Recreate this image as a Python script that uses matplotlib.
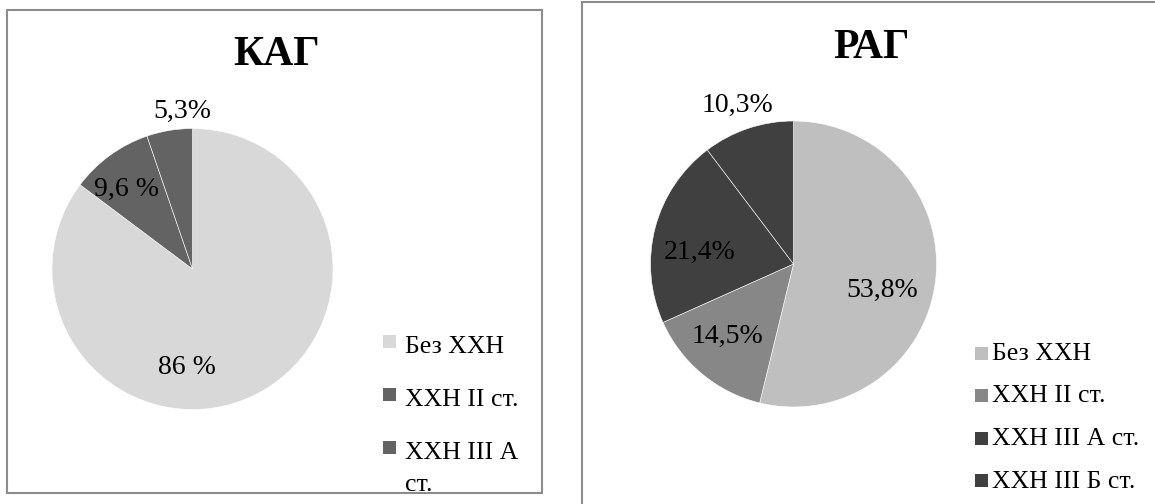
import textwrap
import matplotlib
matplotlib.use("Agg")
import matplotlib.pyplot as plt
from matplotlib.patches import Rectangle

plt.rcParams['font.family'] = ['Liberation Serif', 'DejaVu Serif']

# data
kag_title = 'КАГ'
kag_labels = ['Без ХХН', 'ХХН II ст.', 'ХХН III А ст.']
kag_values = [86, 9.6, 5.3]
kag_texts = ['86 %', '9,6 %', '5,3%']

rag_title = 'РАГ'
rag_labels = ['Без ХХН', 'ХХН II ст.', 'ХХН III А ст.', 'ХХН III Б ст.']
rag_values = [53.8, 14.5, 21.4, 10.3]
rag_texts = ['53,8%', '14,5%', '21,4%', '10,3%']

kag_colors = ['#d9d8d9', '#636363', '#636363']
rag_colors = ['#bfbfbf', '#878787', '#404040', '#404040']

W, H = 1155, 504
fig = plt.figure(figsize=(W / 100, H / 100), dpi=100)
ax = fig.add_axes([0, 0, 1, 1])


def Y(y):
    # image coords (y down) -> data coords (y up)
    return H - y


def panel(values, colors, labels, texts, title, center, r, title_xy, text_xy,
          leg_x, text_x, row0, step, base_off, leg_size, wrap=None):
    ax.pie(values, colors=colors, startangle=90, counterclock=False,
           center=(center[0], Y(center[1])), radius=r,
           wedgeprops=dict(edgecolor='white', linewidth=0.4))
    ax.text(title_xy[0], Y(title_xy[1]), title, fontsize=30, fontweight='bold',
            ha='center', va='center')
    for t, (x, y) in zip(texts, text_xy):
        ax.text(x, Y(y), t, fontsize=20, ha='center', va='center')
    for i, (lab, c) in enumerate(zip(labels, colors)):
        yc = row0 + i * step
        ax.add_patch(Rectangle((leg_x, Y(yc) - 6.5), 13, 13, facecolor=c,
                               edgecolor='none'))
        lines = textwrap.wrap(lab, wrap) if wrap else [lab]
        for k, ln in enumerate(lines):
            ax.text(text_x, Y(yc + base_off + k * 32), ln, fontsize=leg_size,
                    ha='left', va='baseline')


panel(kag_values, kag_colors, kag_labels, kag_texts, kag_title,
      (192.5, 269), 140.5, (277, 55),
      [(187, 367), (126, 189), (182, 111)],
      383, 405, 341, 53, 12, 18.5, wrap=10)

panel(rag_values, rag_colors, rag_labels, rag_texts, rag_title,
      (793.5, 264), 143, (872, 48),
      [(882, 290), (727, 336), (700, 252), (737, 105)],
      975, 992, 353, 42.5, 7, 18.5)

# chart frames
ax.add_patch(Rectangle((7, Y(493)), 535, 483, fill=False, edgecolor='#8c8c8c',
                       linewidth=1.5))
ax.add_patch(Rectangle((582, Y(520)), 600, 518, fill=False, edgecolor='#8c8c8c',
                       linewidth=1.5))

ax.set_xlim(0, W)
ax.set_ylim(0, H)
ax.axis('off')

fig.savefig('out.png', dpi=100, facecolor='white')
